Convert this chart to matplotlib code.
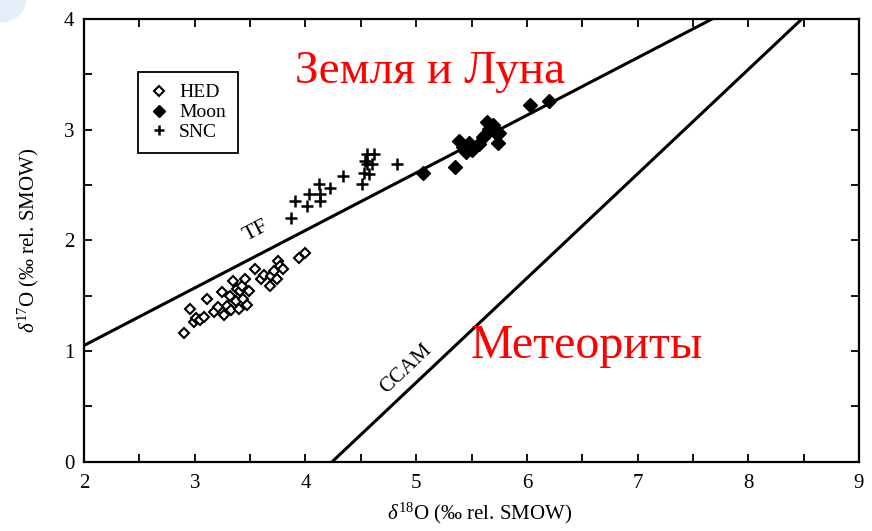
import matplotlib
matplotlib.use("Agg")
import matplotlib.pyplot as plt
import numpy as np
from matplotlib.ticker import MultipleLocator
from matplotlib.patches import Ellipse

plt.rcParams['font.family'] = ['Liberation Serif', 'DejaVu Serif']
plt.rcParams['mathtext.fontset'] = 'custom'
plt.rcParams['mathtext.rm'] = 'Liberation Serif'
plt.rcParams['mathtext.it'] = 'Liberation Serif:italic'

# ---- data ----
hed_x = [2.90, 2.96, 2.99, 3.01, 3.05, 3.08, 3.11, 3.17, 3.21, 3.25, 3.26, 3.29, 3.32,
         3.33, 3.35, 3.37, 3.38, 3.40, 3.41, 3.43, 3.44, 3.45, 3.47, 3.49, 3.54, 3.60,
         3.63, 3.68, 3.69, 3.72, 3.74, 3.75, 3.77, 3.80, 3.94, 4.00]
hed_y = [1.16, 1.38, 1.26, 1.30, 1.28, 1.31, 1.47, 1.35, 1.40, 1.53, 1.33, 1.41, 1.50,
         1.37, 1.63, 1.45, 1.56, 1.38, 1.54, 1.59, 1.47, 1.65, 1.42, 1.54, 1.74, 1.65,
         1.69, 1.59, 1.68, 1.72, 1.65, 1.81, 1.77, 1.74, 1.84, 1.89]

moon_x = [5.06, 5.35, 5.39, 5.42, 5.45, 5.48, 5.50, 5.57, 5.60, 5.62, 5.64, 5.66, 5.69,
          5.71, 5.74, 5.75, 6.03, 6.20]
moon_y = [2.61, 2.66, 2.90, 2.84, 2.80, 2.88, 2.82, 2.87, 2.93, 2.95, 3.07, 3.01, 3.04,
          2.98, 2.88, 2.97, 3.22, 3.26]

snc_x = [3.87, 3.91, 4.01, 4.03, 4.12, 4.13, 4.13, 4.22, 4.34, 4.51, 4.53, 4.57, 4.54,
         4.56, 4.62, 4.60, 4.56, 4.83]
snc_y = [2.20, 2.36, 2.31, 2.42, 2.51, 2.36, 2.42, 2.47, 2.58, 2.51, 2.61, 2.60, 2.72,
         2.78, 2.78, 2.69, 2.69, 2.69]

tf_slope, tf_icpt = 0.52, 0.01
ccam_slope, ccam_icpt = 0.943, -4.0

x_ticks = [2, 3, 4, 5, 6, 7, 8, 9]
y_ticks = [0, 1, 2, 3, 4]

# ---- figure ----
fig = plt.figure(figsize=(8.72, 5.31), dpi=100)

# faint slide decoration in the top-left corner
fig.patches.append(Ellipse((0.0, 1.0), 0.06, 0.085, transform=fig.transFigure,
                           facecolor='#e6edf8', edgecolor='none', zorder=0))

ax = fig.add_axes([84/872, 1-461.7/531, 775/872, 442.7/531])
ax.patch.set_alpha(0)

xl = np.array([2, 9])
ax.plot(xl, tf_slope*xl + tf_icpt, color='black', lw=2.2)
ax.plot(xl, ccam_slope*xl + ccam_icpt, color='black', lw=2.2)

ax.plot(hed_x, hed_y, linestyle='none', marker='D', markersize=5.5, mfc='white',
        mec='black', mew=1.5, label='HED')
ax.plot(moon_x, moon_y, linestyle='none', marker='D', markersize=7.5, mfc='black',
        mec='black', label='Moon')
ax.plot(snc_x, snc_y, linestyle='none', marker='+', markersize=8, mew=1.8,
        color='black', label='SNC')

ax.set_xlim(2, 9)
ax.set_ylim(0, 4)
ax.set_xticks(x_ticks)
ax.set_yticks(y_ticks)
ax.xaxis.set_minor_locator(MultipleLocator(0.5))
ax.yaxis.set_minor_locator(MultipleLocator(0.5))
ax.tick_params(which='both', direction='in', top=True, right=True, length=6,
               width=1.3, labelsize=15)
ax.tick_params(axis='x', which='both', pad=9)
ax.tick_params(axis='y', which='both', pad=7)
for s in ax.spines.values():
    s.set_linewidth(1.6)

ax.set_xlabel(r'$\delta^{18}$O (‰ rel. SMOW)', fontsize=15)
ax.set_ylabel(r'$\delta^{17}$O (‰ rel. SMOW)', fontsize=15)
ax.xaxis.set_label_coords(0.51, -0.088)
ax.yaxis.set_label_coords(-0.055, 0.5)

ax.text(3.55, 2.08, 'TF', rotation=27.5, ha='center', va='center', fontsize=16,
        rotation_mode='anchor')
ax.text(4.91, 0.84, 'CCAM', rotation=43.3, ha='center', va='center', fontsize=15.5,
        rotation_mode='anchor')

ax.text(5.125, 3.42, 'Земля и Луна', color='#ff0000', fontsize=34, ha='center',
        va='baseline')
ax.text(6.544, 0.94, 'Метеориты', color='#ff0000', fontsize=34.5, ha='center',
        va='baseline')

leg = ax.legend(loc='upper left', bbox_to_anchor=(0.07, 0.88), borderaxespad=0,
                fontsize=14, handletextpad=0.6, handlelength=0.9, labelspacing=0.12,
                fancybox=False, edgecolor='black', framealpha=1, markerscale=0.85,
                borderpad=0.6)
leg.get_frame().set_linewidth(1.3)

fig.savefig('out.png', dpi=100)
